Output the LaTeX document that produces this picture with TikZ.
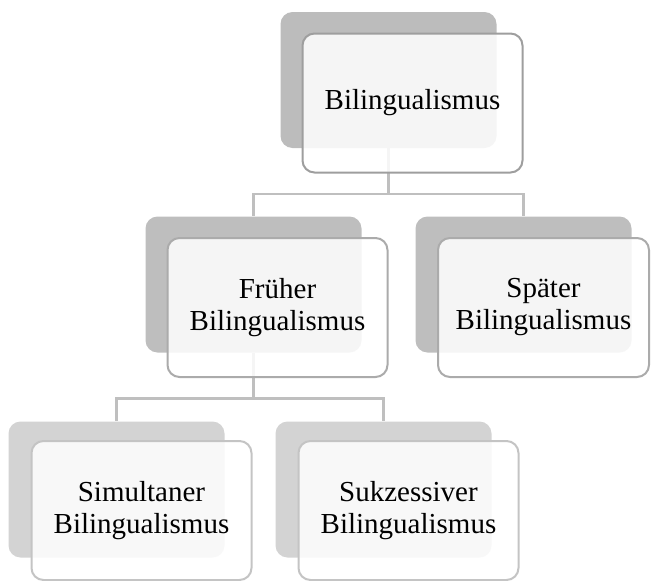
\documentclass[tikz,border=0pt]{standalone}
\usepackage{fontspec}
\setmainfont{Liberation Serif}
\usetikzlibrary{positioning}
\definecolor{shadeone}{HTML}{BCBCBC}
\definecolor{shadetwo}{HTML}{BEBEBE}
\definecolor{shadethree}{HTML}{D3D3D3}
\definecolor{rimone}{HTML}{9E9E9E}
\definecolor{rimtwo}{HTML}{ABABAB}
\definecolor{rimthree}{HTML}{C4C4C4}
\definecolor{linkgray}{HTML}{BFBFBF}
\begin{document}
\begin{tikzpicture}[x=1pt,y=-1pt,
	back/.style={fill=#1, rounded corners=12pt, minimum width=216pt, minimum height=136pt, inner sep=0pt},
	front/.style={draw=#1, line width=2pt, fill=white, fill opacity=.86, text opacity=1, rounded corners=12pt,
		minimum width=220pt, minimum height=139pt, inner sep=0pt, align=center, font=\fontsize{29}{32}\selectfont},
	link/.style={draw=linkgray, line width=2.5pt}]
	\useasboundingbox (0,0) rectangle (651,581);
	% Shadow boxes
	\node[back=shadeone] (topb) at (388.5,80) {};
	\node[back=shadetwo] (leftb) at (253.5,284.5) {};
	\node[back=shadetwo] (rightb) at (523.5,284.5) {};
	\node[back=shadethree] (simb) at (116.5,489.5) {};
	\node[back=shadethree] (sukb) at (383.5,489.5) {};
	% Connectors
	\draw[link] (topb.south) -- ++(0,46) -| (leftb.north);
	\draw[link] (topb.south) -- ++(0,46) -| (rightb.north);
	\draw[link] (leftb.south) -- ++(0,46) -| (simb.north);
	\draw[link] (leftb.south) -- ++(0,46) -| (sukb.north);
	% Front boxes with labels
	\node[front=rimone, xshift=24pt, yshift=-23pt] (top) at (topb) {Bilingualismus};
	\node[front=rimtwo, xshift=24pt, yshift=-23pt] (frueh) at (leftb) {Früher\\Bilingualismus};
	\node[front=rimtwo, minimum width=211pt, xshift=20pt, yshift=-23pt] (spaet) at (rightb) {Später\\Bilingualismus};
	\node[front=rimthree, xshift=25pt, yshift=-21pt] (sim) at (simb) {Simultaner\\Bilingualismus};
	\node[front=rimthree, xshift=25pt, yshift=-21pt] (suk) at (sukb) {Sukzessiver\\Bilingualismus};
\end{tikzpicture}
\end{document}
